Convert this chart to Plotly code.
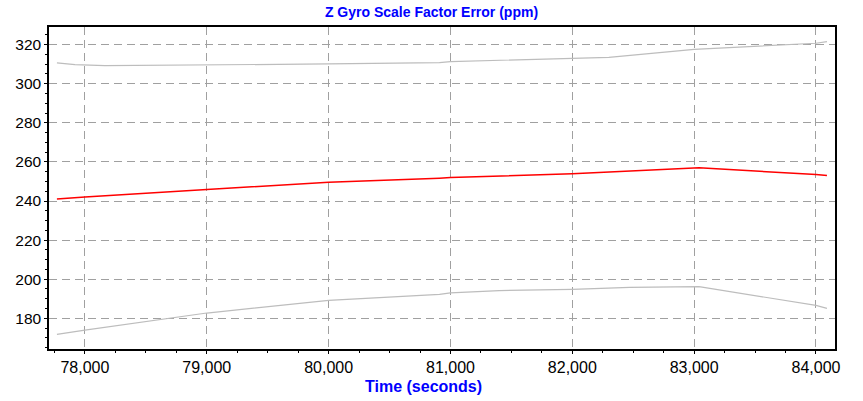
import plotly.graph_objects as go

# Time (seconds)
time_mid = [77770, 78000, 79000, 80000, 80910, 81000, 82000, 83000, 83040, 84000, 84090]
sf_error = [241.0, 242.0, 245.9, 249.6, 251.7, 252.0, 254.0, 256.8, 257.0, 253.5, 253.0]

time_upper = [77770, 77918, 78164, 78615, 80000, 80910, 81000, 82000, 82300, 83000, 84000, 84090]
upper_bound = [310.6, 309.8, 309.2, 309.4, 310.1, 310.8, 311.3, 313.0, 313.5, 317.6, 320.7, 321.5]

time_lower = [77770, 78000, 79000, 80000, 80910, 81000, 81400, 82000, 82470, 82880, 83040, 84000, 84090]
lower_bound = [171.8, 174.0, 182.7, 189.2, 192.2, 193.0, 194.2, 194.8, 195.8, 196.3, 196.2, 186.6, 185.1]

x_ticks = [78000, 79000, 80000, 81000, 82000, 83000, 84000]
y_ticks = [180, 200, 220, 240, 260, 280, 300, 320]

fig = go.Figure()
fig.add_trace(go.Scatter(x=time_upper, y=upper_bound, mode="lines",
                         line=dict(color="#bdbdbd", width=1.2), showlegend=False))
fig.add_trace(go.Scatter(x=time_lower, y=lower_bound, mode="lines",
                         line=dict(color="#bdbdbd", width=1.2), showlegend=False))
fig.add_trace(go.Scatter(x=time_mid, y=sf_error, mode="lines",
                         line=dict(color="#ff0000", width=1.5), showlegend=False))

font_family = "Liberation Sans, Arial, sans-serif"
fig.update_layout(
    width=863, height=401,
    margin=dict(l=49, r=28, t=27, b=52),
    paper_bgcolor="white", plot_bgcolor="white",
    font=dict(family=font_family, size=15, color="black"),
    title=dict(text="<b>Z Gyro Scale Factor Error (ppm)</b>",
               font=dict(family=font_family, size=14, color="#0000ff"),
               x=0.5, xanchor="center", y=1 - 12 / 401, yanchor="middle", yref="container"),
)
fig.add_annotation(text="<b>Time (seconds)</b>", xref="paper", yref="paper",
                   x=(423 - 49) / 786, y=(349 - 387) / 322, xanchor="center", yanchor="middle",
                   showarrow=False, font=dict(family=font_family, size=16, color="#0000ff"))
fig.update_xaxes(
    range=[77705, 84156], automargin=False,
    tickvals=x_ticks, ticktext=[f"{v:,}" for v in x_ticks],
    tickfont=dict(size=16),
    showline=True, linecolor="black", linewidth=1.5, mirror=True,
    ticks="outside", ticklen=3, tickcolor="black",
    showgrid=True, gridcolor="#a0a0a0", griddash="8px,5px", gridwidth=1.2,
    minor=dict(dtick=250, tick0=78000, ticks="outside", ticklen=2, tickcolor="black", showgrid=False),
    zeroline=False,
)
fig.update_yaxes(
    range=[164.3, 329], automargin=False,
    tickvals=y_ticks, tickfont=dict(size=15.5),
    showline=True, linecolor="black", linewidth=1.5, mirror=True,
    ticks="outside", ticklen=3, tickcolor="black",
    showgrid=True, gridcolor="#a0a0a0", griddash="8px,5px", gridwidth=1.2,
    minor=dict(dtick=5, tick0=180, ticks="outside", ticklen=2, tickcolor="black", showgrid=False),
    zeroline=False,
)

fig.write_html("out.html", config={"displayModeBar": False},
               post_script="document.body.style.margin='0';document.body.style.overflow='hidden';")
